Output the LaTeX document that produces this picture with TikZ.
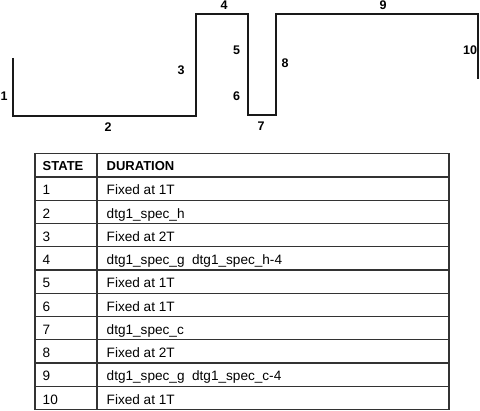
\documentclass[tikz,border=0pt]{standalone}
\usepackage{fontspec}
\setmainfont{Liberation Sans}
\begin{document}
\begin{tikzpicture}[x=1pt,y=-1pt,
  wave/.style={line width=2pt, line join=miter, color=black!90},
  grid/.style={line width=1.2pt, color=black!80},
  lbl/.style={font=\fontsize{12.5}{14}\selectfont\bfseries, inner sep=0pt},
  cell/.style={font=\fontsize{13.6}{15}\selectfont, inner sep=0pt, anchor=base west},
  head/.style={font=\fontsize{13}{15}\selectfont\bfseries, inner sep=0pt, anchor=base west}]
\useasboundingbox (0,0) rectangle (480,411);
% waveform
\coordinate (w0) at (12.7,58);
\coordinate (w1) at (12.7,116.5);
\coordinate (w2) at (196,116.5);
\coordinate (w3) at (196,13.7);
\coordinate (w4) at (248,13.7);
\coordinate (w5) at (248,115.5);
\coordinate (w6) at (276,115.5);
\coordinate (w7) at (276,13.7);
\coordinate (w8) at (477.5,13.7);
\coordinate (w9) at (477.5,79);
\draw[wave] (w0) -- (w1) -- (w2) -- (w3) -- (w4) -- (w5) -- (w6) -- (w7) -- (w8) -- (w9);
\node[lbl] (l1) at (4,96) {1};
\node[lbl] (l2) at (108,127) {2};
\node[lbl] (l3) at (181,70) {3};
\node[lbl] (l4) at (224,5) {4};
\node[lbl] (l5) at (236.5,50) {5};
\node[lbl] (l6) at (236.5,96) {6};
\node[lbl] (l7) at (261,126) {7};
\node[lbl] (l8) at (285,63) {8};
\node[lbl] (l9) at (383,5) {9};
\node[lbl] (l10) at (470,50) {10};
% table
\coordinate (tl) at (35,153.7);
\coordinate (br) at (449,409.5);
\draw[grid] (tl) rectangle (br);
\draw[grid] (97,153.7) -- (97,409.5);
\foreach \i in {0,...,9} {
  \draw[grid] (35,{177+23.25*\i}) -- (449,{177+23.25*\i});
}
\node[head] (hs) at (42.5,171) {STATE};
\node[head] (hd) at (106.5,171) {DURATION};
\foreach \s/\d [count=\i from 0] in {1/Fixed at 1T, 2/dtg1\_spec\_h, 3/Fixed at 2T, 4/dtg1\_spec\_g\ \ dtg1\_spec\_h-4, 5/Fixed at 1T, 6/Fixed at 1T, 7/dtg1\_spec\_c, 8/Fixed at 2T, 9/dtg1\_spec\_g\ \ dtg1\_spec\_c-4, 10/Fixed at 1T} {
  \node[cell] (s\s) at (42.5,{195+23.25*\i}) {\s};
  \node[cell] (d\s) at (106.5,{195+23.25*\i}) {\d};
}
\end{tikzpicture}
\end{document}
